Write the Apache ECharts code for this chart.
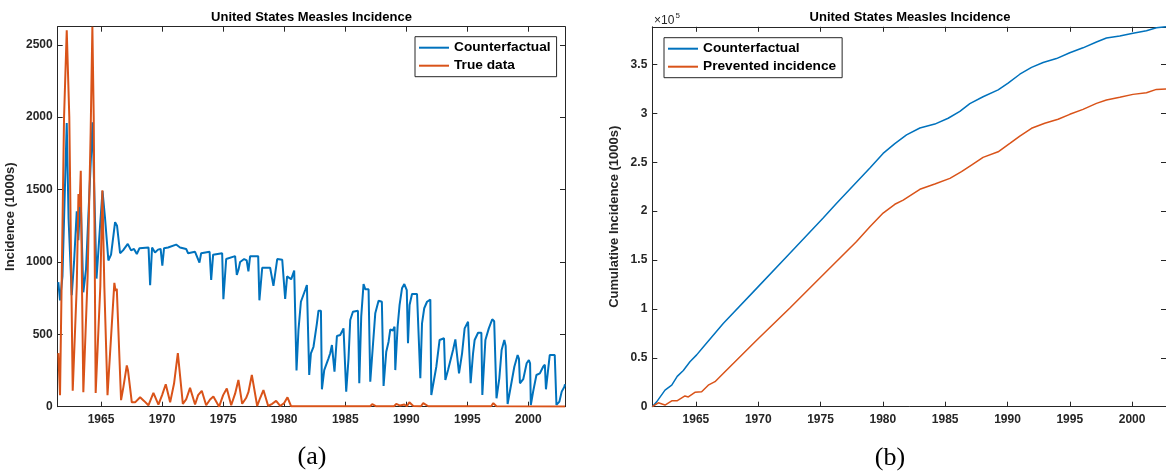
<!DOCTYPE html>
<html>
<head>
<meta charset="utf-8">
<title>United States Measles Incidence</title>
<script src="https://cdn.jsdelivr.net/npm/echarts@6/dist/echarts.min.js"></script>
<style>
  html, body { margin: 0; padding: 0; background: #fff; }
  #chart { width: 1166px; height: 475px; }
</style>
</head>
<body>
<div id="chart"></div>
<script>
// ---- Tick positions ----
const yearTicks = [1965, 1970, 1975, 1980, 1985, 1990, 1995, 2000];
const incidenceTicks = [0, 500, 1000, 1500, 2000, 2500];
const cumulativeTicks = [0, 50000, 100000, 150000, 200000, 250000, 300000, 350000];

// ---- (a) Incidence, thousands of cases ----
const cfYears = [1961.50,1961.64,1961.84,1962.19,1962.34,1962.60,1962.79,1963.01,1963.14,1963.32,
  1963.55,1963.77,1964.30,1964.63,1964.92,1965.12,1965.33,1965.60,1965.82,1966.15,
  1966.31,1966.56,1966.80,1967.19,1967.46,1967.70,1967.93,1968.15,1968.89,1969.02,
  1969.18,1969.42,1969.67,1969.88,1970.02,1970.16,1970.49,1971.15,1971.47,1971.97,
  1972.13,1972.70,1973.06,1973.20,1973.89,1974.02,1974.18,1974.92,1975.02,1975.25,
  1975.98,1976.12,1976.27,1976.39,1976.72,1976.93,1977.07,1977.21,1977.87,1977.97,
  1978.20,1978.85,1979.12,1979.43,1979.84,1980.08,1980.24,1980.57,1980.82,1981.01,
  1981.17,1981.37,1981.72,1981.86,1981.99,1982.05,1982.19,1982.40,1982.68,1982.81,
  1983.01,1983.09,1983.28,1983.44,1983.63,1983.77,1983.91,1984.06,1984.12,1984.32,
  1984.59,1984.86,1985.00,1985.08,1985.27,1985.41,1985.63,1986.04,1986.15,1986.31,
  1986.50,1986.64,1986.91,1987.05,1987.27,1987.46,1987.73,1988.00,1988.14,1988.36,
  1988.55,1988.69,1988.89,1989.04,1989.10,1989.29,1989.45,1989.65,1989.84,1990.04,
  1990.14,1990.27,1990.47,1990.88,1991.03,1991.15,1991.29,1991.47,1991.70,1991.97,
  1992.05,1992.46,1992.73,1993.09,1993.20,1993.42,1993.57,1993.83,1994.02,1994.18,
  1994.32,1994.57,1994.78,1995.06,1995.17,1995.27,1995.47,1995.60,1995.88,1996.15,
  1996.23,1996.48,1996.76,1997.04,1997.20,1997.39,1997.62,1997.81,1998.03,1998.14,
  1998.30,1998.58,1998.85,1999.12,1999.23,1999.31,1999.58,1999.86,2000.04,2000.14,
  2000.20,2000.39,2000.66,2000.94,2001.21,2001.35,2001.44,2001.75,2002.16,2002.30,
  2002.54,2002.73,2002.95,2003.00];
const cfValues = [860,735,900,1960,1300,770,1000,1350,1150,1470,
  790,950,1965,885,1250,1490,1300,1010,1050,1275,
  1250,1060,1080,1125,1080,1090,1055,1095,1100,840,
  1100,1065,1085,1090,975,1095,1100,1120,1100,1090,
  1060,1070,995,1060,1070,875,1050,1060,742,1020,
  1040,910,950,1000,1020,1010,935,1040,1040,735,
  960,960,835,1020,1015,745,900,880,940,250,
  530,725,806,840,840,219,369,414,576,663,
  663,120,253,243,334,369,426,426,242,488,
  495,541,530,104,334,599,656,663,162,622,
  847,812,812,173,426,645,732,725,143,380,
  449,534,525,553,253,553,702,818,847,806,
  438,702,778,778,765,196,576,680,725,740,
  81,276,461,473,184,253,253,392,465,460,
  230,369,541,587,580,162,369,461,511,511,
  81,461,541,604,590,58,196,392,461,420,
  19,150,276,357,330,162,190,300,322,300,
  12,104,219,230,276,290,120,357,357,12,
  35,104,138,155];

const trueYears = [1961.50,1961.64,1961.97,1962.19,1962.40,1962.68,1963.01,1963.15,1963.24,1963.34,
  1963.44,1963.55,1963.90,1964.15,1964.29,1964.40,1964.56,1964.94,1965.11,1965.27,
  1965.53,1966.09,1966.19,1966.29,1966.64,1966.83,1967.11,1967.21,1967.52,
  1967.79,1968.20,1968.52,1968.88,1969.29,1969.70,1970.00,1970.30,1970.66,1970.98,
  1971.29,1971.70,1971.97,1972.29,1972.70,1972.95,1973.25,1973.61,1973.93,1974.20,
  1974.67,1975.00,1975.30,1975.66,1975.98,1976.25,1976.56,1976.88,1977.07,1977.35,
  1977.79,1978.03,1978.30,1978.69,1979.02,1979.34,1979.67,1980.00,1980.27,1980.57,
  1985.00,1985.14,1985.33,1985.95,1986.07,1986.39,1987.05,1987.21,1987.54,1989.00,
  1989.18,1989.50,1989.84,1990.05,1990.25,1990.57,1991.20,1991.39,1991.80,1996.95,
  1997.13,1997.38,2003.00];
const trueValues = [370,80,2000,2600,2000,110,830,1470,1380,1630,
  830,100,900,1900,2625,2000,95,830,1495,830,
  80,855,800,815,45,135,285,250,30,
  30,65,40,10,95,15,80,155,30,160,
  370,20,50,130,15,80,110,10,50,70,
  0,80,125,10,90,185,20,60,100,220,
  5,60,115,5,20,40,5,25,65,3,
  3,15,3,3,15,3,3,18,3,3,
  20,8,15,3,30,5,3,25,3,3,
  25,3,2];

// ---- (b) Cumulative incidence, thousands of cases ----
const cumYears = [1961.50,1961.85,1962.52,1963.06,1963.50,1963.99,1964.52,1965.06,1965.59,1967.19,
  1969.87,1972.54,1975.21,1976.29,1978.96,1980.02,1980.96,1981.90,1982.97,1984.17,
  1985.24,1986.18,1986.98,1988.04,1989.25,1990.05,1990.99,1991.93,1992.86,1993.93,
  1995.00,1996.06,1997.14,1997.94,1999.01,2000.07,2001.15,2001.95,2002.72];
const cumCounterfactual = [0,5000,17000,22000,31000,37000,46000,53000,61000,85000,
  121000,157000,193000,208000,244000,259000,269000,278000,285000,289000,
  295000,302000,310000,317000,324000,331000,340000,347000,352000,356000,
  362000,367000,373000,377000,379000,382000,384500,387500,388500];

const preventedYears = [1961.50,1961.98,1962.52,1963.06,1963.48,1964.12,1964.39,1964.92,1965.46,1965.99,
  1966.53,1967.19,1969.87,1972.54,1975.21,1977.89,1978.96,1980.02,1980.96,1981.63,
  1982.97,1984.17,1985.38,1986.31,1987.11,1988.04,1989.25,1990.19,1990.99,1991.93,
  1992.99,1994.06,1995.00,1996.06,1997.14,1997.94,1999.01,2000.07,2001.15,2001.95,
  2002.72];
const cumPrevented = [0,4000,1700,6000,6000,11000,10000,14700,15300,22000,
  25600,34000,68000,101000,135000,169000,184000,198000,207000,211300,
  222300,227700,233500,240300,247100,255000,260700,269300,276800,284700,
  289800,293900,299000,304100,310200,313600,316400,319400,321100,324500,
  325000];

// ---- styling ----
const INK = '#262626';
const BLUE = '#0072BD';
const ORANGE = '#D95319';
const SANS = '"Liberation Sans", Arial, Helvetica, sans-serif';

const pairs = (xs, ys) => xs.map((x, i) => [x, ys[i]]);

function xAxes(gridIndex, min, max, fontSize) {
  const base = {
    type: 'value', gridIndex, min, max,
    axisLine: { show: true, onZero: false, lineStyle: { color: INK, width: 1 } },
    axisTick: { show: true, inside: true, length: 5, customValues: yearTicks, lineStyle: { color: INK, width: 1 } },
    splitLine: { show: false }
  };
  return [
    Object.assign({}, base, {
      position: 'bottom',
      axisLabel: { show: true, customValues: yearTicks, margin: 7, color: INK,
        fontFamily: SANS, fontWeight: 'bold', fontSize, formatter: v => String(v) }
    }),
    Object.assign({}, base, { position: 'top', axisLabel: { show: false } })
  ];
}

function yAxes(gridIndex, max, ticks, name, nameGap, formatter) {
  const base = {
    type: 'value', gridIndex, min: 0, max,
    axisLine: { show: true, onZero: false, lineStyle: { color: INK, width: 1 } },
    axisTick: { show: true, inside: true, length: 5, customValues: ticks, lineStyle: { color: INK, width: 1 } },
    splitLine: { show: false }
  };
  return [
    Object.assign({}, base, {
      position: 'left',
      name, nameLocation: 'middle', nameGap,
      nameTextStyle: { color: INK, fontFamily: SANS, fontWeight: 'bold', fontSize: 13 },
      axisLabel: { show: true, customValues: ticks, margin: 5, color: INK,
        fontFamily: SANS, fontWeight: 'bold', fontSize: 12, formatter }
    }),
    Object.assign({}, base, { position: 'right', axisLabel: { show: false } })
  ];
}

function legend(left, top, names) {
  return {
    data: names, orient: 'vertical', left, top,
    padding: [4, 6, 4, 4], itemGap: 4, itemWidth: 30, itemHeight: 2, icon: 'rect',
    backgroundColor: '#fff', borderColor: INK, borderWidth: 1, borderRadius: 0,
    textStyle: { color: '#000', fontFamily: SANS, fontWeight: 'bold', fontSize: 13.7, lineHeight: 14 },
    selectedMode: false
  };
}

const chart = echarts.init(document.getElementById('chart'), null, { renderer: 'canvas' });

const option = {
  animation: false,
  backgroundColor: '#fff',
  grid: [
    { left: 57.7, top: 26.7, width: 507.3, height: 380, containLabel: false },
    { left: 652.3, top: 26.8, width: 513.7, height: 379.9, containLabel: false }
  ],
  xAxis: [].concat(xAxes(0, 1961.45, 2003, 12), xAxes(1, 1961.5, 2002.72, 12)),
  yAxis: [].concat(
    yAxes(0, 2625, incidenceTicks, 'Incidence (1000s)', 41, v => String(v)),
    yAxes(1, 388500, cumulativeTicks, 'Cumulative Incidence (1000s)', 31.5,
      v => String(+(v / 1e5).toFixed(1)))
  ),
  legend: [
    legend(415, 36.7, ['Counterfactual', 'True data']),
    legend(664, 37.7, ['Counterfactual ', 'Prevented incidence'])
  ],
  series: [
    { name: 'Counterfactual', type: 'line', xAxisIndex: 0, yAxisIndex: 0, data: pairs(cfYears, cfValues),
      symbol: 'none', lineStyle: { color: BLUE, width: 2 }, itemStyle: { color: BLUE }, clip: true, z: 3 },
    { name: 'True data', type: 'line', xAxisIndex: 0, yAxisIndex: 0, data: pairs(trueYears, trueValues),
      symbol: 'none', lineStyle: { color: ORANGE, width: 2 }, itemStyle: { color: ORANGE }, clip: true, z: 4 },
    { name: 'Counterfactual ', type: 'line', xAxisIndex: 2, yAxisIndex: 2, data: pairs(cumYears, cumCounterfactual),
      symbol: 'none', lineStyle: { color: BLUE, width: 1.5 }, itemStyle: { color: BLUE }, clip: true, z: 3 },
    { name: 'Prevented incidence', type: 'line', xAxisIndex: 2, yAxisIndex: 2, data: pairs(preventedYears, cumPrevented),
      symbol: 'none', lineStyle: { color: ORANGE, width: 1.5 }, itemStyle: { color: ORANGE }, clip: true, z: 4 }
  ],
  graphic: [
    { type: 'text', x: 311.5, y: 17.5, style: { text: 'United States Measles Incidence', fill: '#000',
      font: 'bold 13px ' + SANS, textAlign: 'center', textVerticalAlign: 'middle' } },
    { type: 'text', x: 910, y: 17.5, style: { text: 'United States Measles Incidence', fill: '#000',
      font: 'bold 13px ' + SANS, textAlign: 'center', textVerticalAlign: 'middle' } },
    { type: 'text', x: 654, y: 20.5, style: { text: '×10', fill: INK,
      font: '12px ' + SANS, textAlign: 'left', textVerticalAlign: 'middle' } },
    { type: 'text', x: 675.5, y: 15.5, style: { text: '5', fill: INK,
      font: '8px ' + SANS, textAlign: 'left', textVerticalAlign: 'middle' } },
    { type: 'text', x: 312, y: 457, style: { text: '(a)', fill: '#000',
      font: '26px "Liberation Serif", "Times New Roman", serif', textAlign: 'center', textVerticalAlign: 'middle' } },
    { type: 'text', x: 890, y: 458, style: { text: '(b)', fill: '#000',
      font: '26px "Liberation Serif", "Times New Roman", serif', textAlign: 'center', textVerticalAlign: 'middle' } }
  ]
};

chart.setOption(option);
</script>
</body>
</html>
